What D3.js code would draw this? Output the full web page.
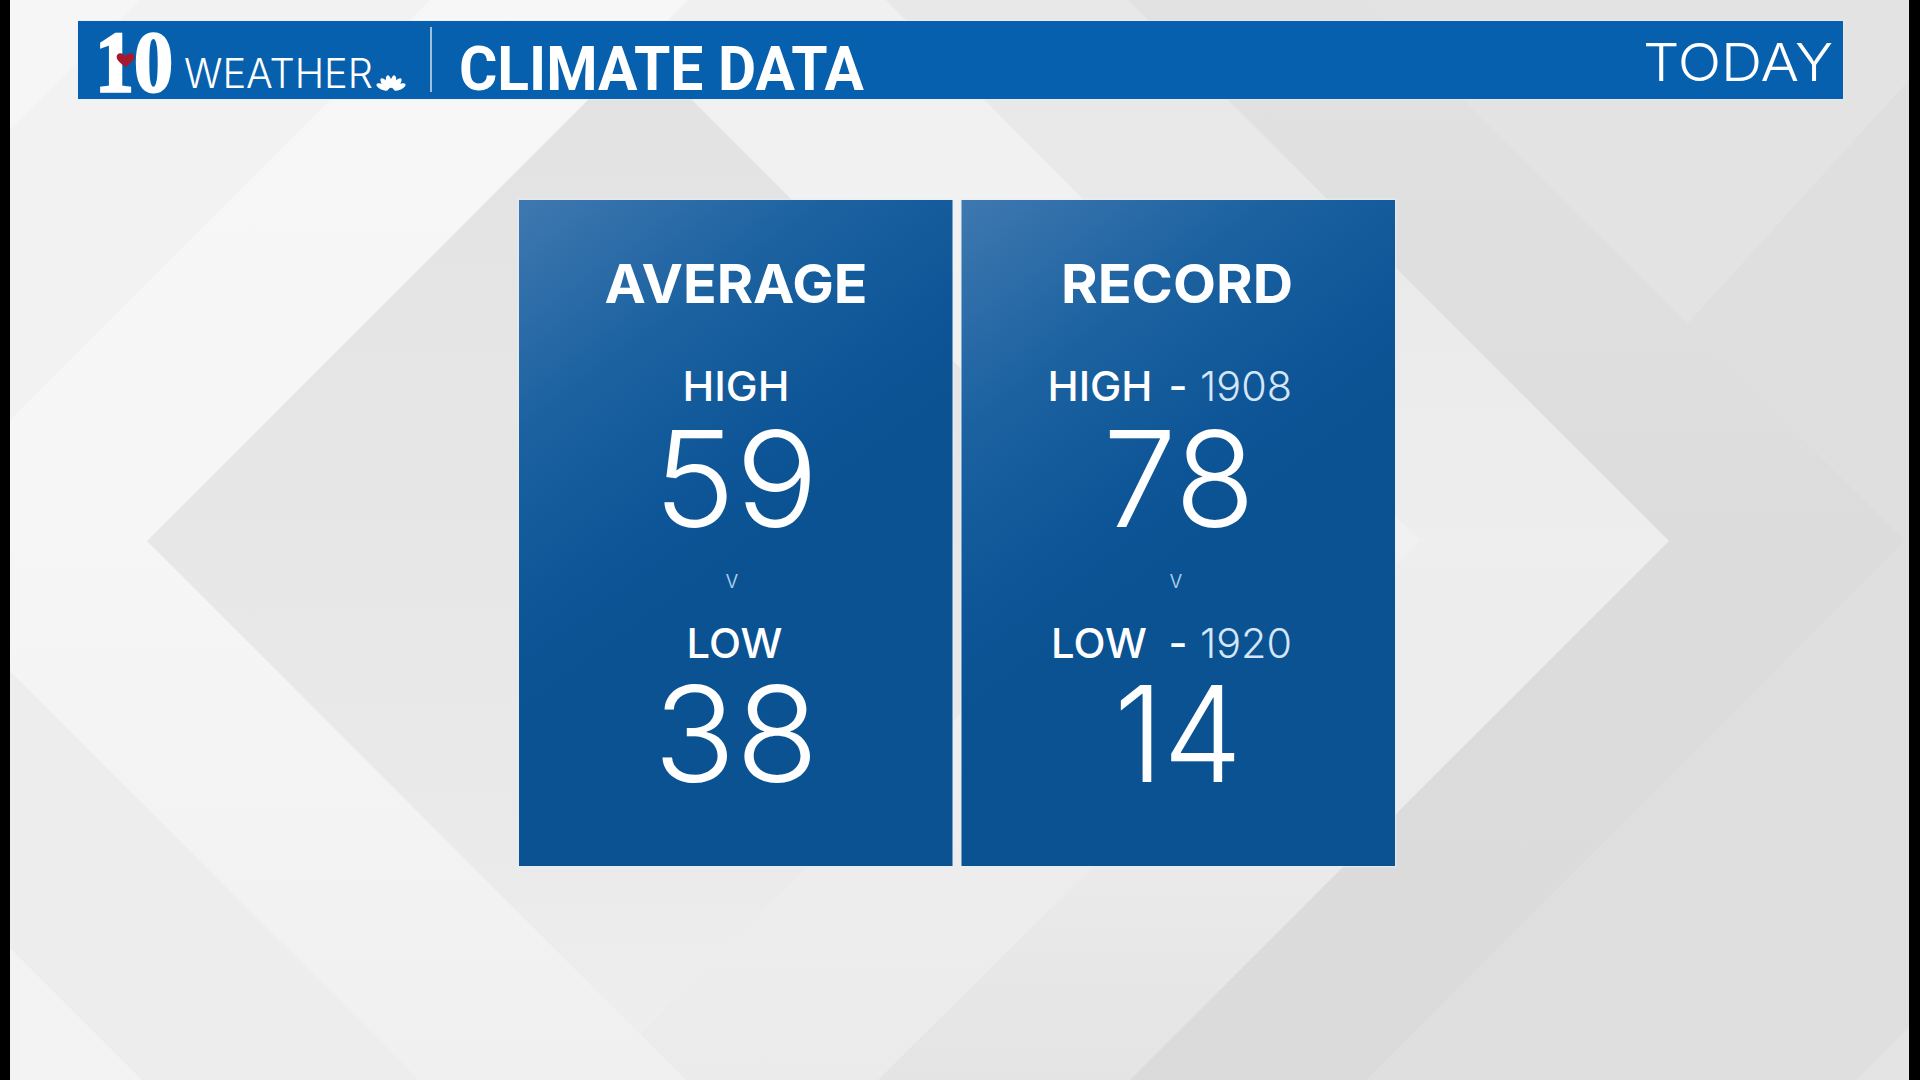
<!DOCTYPE html>
<html><head><meta charset="utf-8">
<script src="https://cdn.jsdelivr.net/npm/d3@7"></script>
<style>html,body{margin:0;padding:0;background:#000;overflow:hidden}svg{display:block}</style>
</head><body><svg id="c" width="1920" height="1080"></svg>
<script>
const panelTitles = ["AVERAGE", "RECORD"];
const rowLabels = ["HIGH", "LOW"];
const highValues = [59, 78];
const lowValues = [38, 14];
const highYears = [null, 1908];
const lowYears = [null, 1920];
const headerTitle = "CLIMATE DATA";
const headerRight = "TODAY";
const brandNumber = "10";
const brandWord = "WEATHER";

const svg = d3.select("#c");
const defs = svg.append("defs");
function vGrad(id, stops){
  const g = defs.append("linearGradient").attr("id",id).attr("gradientUnits","userSpaceOnUse")
    .attr("x1",0).attr("y1",0).attr("x2",0).attr("y2",1080);
  stops.forEach(s=>g.append("stop").attr("offset",s[0]/1080).attr("stop-color",s[1]));
}
vGrad("c1",[[0,"#e2e2e2"],[541,"#dcdcdc"],[1080,"#dbdbdb"]]);
vGrad("c2",[[0,"#e8e8e8"],[200,"#e9e9e9"],[541,"#eeeeee"],[812,"#ececec"],[1080,"#e4e4e4"]]);
vGrad("c3",[[0,"#f0f0f0"],[150,"#f1f1f1"],[541,"#f1f1f1"],[870,"#ededed"],[1080,"#ebebeb"]]);
vGrad("dk",[[48,"#e2e2e2"],[541,"#e7e7e7"],[850,"#eaeaea"],[1034,"#eeeeee"]]);
vGrad("lf",[[0,"#f7f7f7"],[541,"#f6f6f6"],[1080,"#f0f0f0"]]);
const pg = defs.append("linearGradient").attr("id","pg").attr("x1",0).attr("y1",0).attr("x2",.3).attr("y2",.62);
pg.append("stop").attr("offset",0).attr("stop-color","#3f78b0");
pg.append("stop").attr("offset",.45).attr("stop-color","#1c62a1");
pg.append("stop").attr("offset",.8).attr("stop-color","#0e5697");
pg.append("stop").attr("offset",1).attr("stop-color","#0b5293");

svg.append("rect").attr("x",10).attr("y",0).attr("width",1899).attr("height",1080).attr("fill","#e3e3e3");

const shapes = [
  {f:"#dfdfdf", p:[[1000,1080],[2000,80],[2000,1080]]},
  {f:"url(#c1)", p:[[10,0],[1364,0],[1905,541],[1366,1080],[10,1080]]},
  {f:"url(#c2)", p:[[10,0],[1128,0],[1669,541],[1130,1080],[10,1080]]},
  {f:"url(#c3)", p:[[10,0],[886,0],[1420,541],[878,1080],[10,1080]]},
  {f:"url(#lf)", p:[[10,0],[688,0],[147,541],[686,1080],[10,1080]]},
  {f:"url(#dk)", p:[[147,541],[640,48],[1133,541],[640,1034]]},
  {f:"#f2f2f2", p:[[10,0],[430,0],[10,420]]},
  {f:"#f6f6f6", p:[[10,0],[140,0],[10,130]]},
  {f:"#ededed", p:[[10,671],[419,1080],[10,1080]]},
  {f:"#f3f3f3", p:[[10,948],[142,1080],[10,1080]]},
  {f:"#e4e4e4", p:[[1856,1080],[1909,1027],[1909,1080]]}
];
svg.append("g").selectAll("polygon").data(shapes).join("polygon")
  .attr("points",d=>d.p.map(q=>[Math.min(1909,q[0]),q[1]].join(",")).join(" "))
  .attr("fill",d=>d.f);

// header
const hdr = svg.append("g");
hdr.append("rect").attr("x",78).attr("y",21).attr("width",1765).attr("height",78).attr("fill","#0660ad")
  .attr("stroke","#e2f0fa").attr("stroke-opacity",.55).attr("stroke-width",2).attr("paint-order","stroke");
const T = (g,o)=>{
  const t = g.append("text").attr("x",o.x).attr("y",o.y).attr("text-anchor",o.a||"middle")
  .attr("font-family",o.ff||"Inter, sans-serif").attr("font-size",o.s).attr("font-weight",o.w||400)
  .attr("fill",o.c||"#fff").text(o.t);
  if(o.tl) t.attr("textLength",o.tl).attr("lengthAdjust","spacingAndGlyphs");
  if(o.sw) t.attr("stroke",o.c||"#fff").attr("stroke-width",o.sw);
  return t;
};
T(hdr,{x:134,y:91,s:86,w:700,ff:"'Liberation Serif',serif",tl:78,sw:2.5,t:brandNumber});
hdr.append("path").attr("d","M125.5 67c-9-6-10-10-8-12.500 2-2 6-1.500 8 2 2-3.500 6-4 8-2 2 2.500 1 6.500-8 12.500z").attr("fill","#a8182e");
T(hdr,{x:184,y:88,a:"start",s:41,w:300,tl:189,t:brandWord});
const peacock = d3.range(6);
hdr.append("g").selectAll("ellipse").data(peacock).join("ellipse")
  .attr("transform",d=>`translate(391,91) rotate(${-65+d*26})`)
  .attr("cx",0).attr("cy",-9.5).attr("rx",2.8).attr("ry",6.5).attr("fill","#fff");
hdr.append("line").attr("x1",431).attr("x2",431).attr("y1",27).attr("y2",92).attr("stroke","#cfe0f0").attr("stroke-width",1.5);
T(hdr,{x:459,y:90,a:"start",s:62,w:700,ff:"Roboto, sans-serif",tl:405,t:headerTitle});
T(hdr,{x:1833,y:81,a:"end",s:52,w:300,tl:190,t:headerRight});

// panels
const xBand = d3.scaleBand().domain(panelTitles).range([519,1395]).paddingInner(0.0203);
const panels = svg.append("g").selectAll("g").data(panelTitles).join("g")
  .attr("transform",d=>`translate(${xBand(d)},200)`);
panels.append("rect").attr("width",xBand.bandwidth()).attr("height",666).attr("fill","url(#pg)")
  .attr("stroke","#e2f0fa").attr("stroke-opacity",.55).attr("stroke-width",3).attr("paint-order","stroke");

const layout = [
  {title:{x:736,tl:263}, high:{x:736,tl:107}, low:{x:734.5,tl:96}, v:732, hv:{x:736,tl:165}, lv:{x:736,tl:165}},
  {title:{x:1177,tl:232}, high:{x:1100,tl:105}, low:{x:1099,tl:96}, v:1176, hv:{x:1179,tl:152}, lv:{x:1178,tl:128}}
];
panelTitles.forEach((name,i)=>{
  const g = svg.append("g"), L = layout[i];
  T(g,{x:L.title.x,y:303,s:54,w:700,tl:L.title.tl,t:name});
  const rows = [
    {lab:rowLabels[0],val:highValues[i],yr:highYears[i],ly:401,vy:527,l:L.high,n:L.hv},
    {lab:rowLabels[1],val:lowValues[i],yr:lowYears[i],ly:658,vy:782,l:L.low,n:L.lv}
  ];
  rows.forEach(r=>{
    T(g,{x:r.l.x,y:r.ly,s:41,w:500,tl:r.l.tl,t:r.lab});
    if(r.yr){
      T(g,{x:1178,y:r.ly,s:41,w:500,t:"-"});
      T(g,{x:1292,y:r.ly,a:"end",s:41,w:300,c:"#d5e6f6",tl:92,t:r.yr});
    }
    T(g,{x:r.n.x,y:r.vy,s:133,w:300,tl:r.n.tl,t:r.val});
  });
  T(g,{x:L.v,y:588,s:24,w:300,c:"#a6cbeb",t:"v"});
});
</script></body></html>
